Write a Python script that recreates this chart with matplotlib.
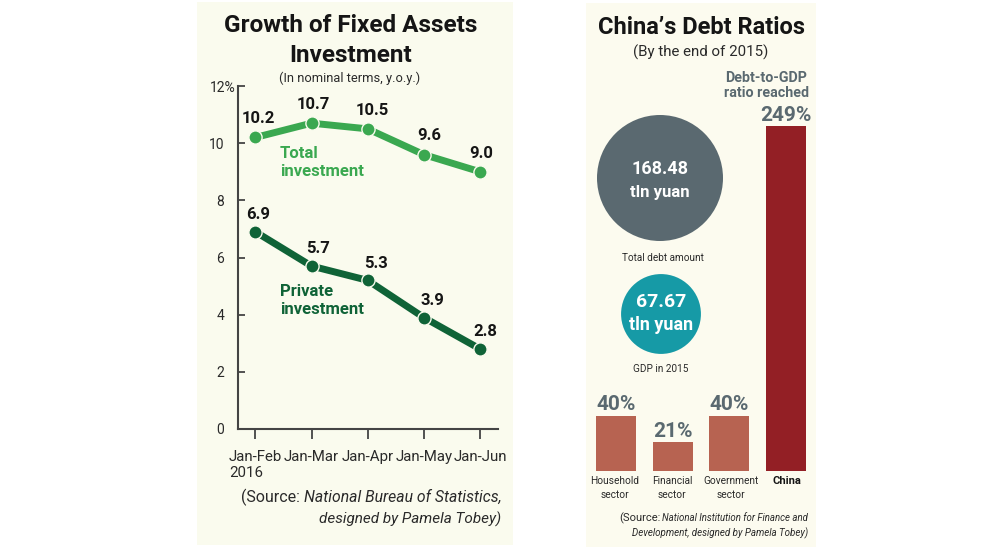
import matplotlib
matplotlib.use("Agg")
import matplotlib.pyplot as plt
from matplotlib.patches import Rectangle
from matplotlib.transforms import ScaledTranslation

W, H = 999, 550

periods = ["Jan-Feb\n2016", "Jan-Mar", "Jan-Apr", "Jan-May", "Jan-Jun"]
total_investment = [10.2, 10.7, 10.5, 9.6, 9.0]
private_investment = [6.9, 5.7, 5.2, 3.9, 2.8]
private_labels = ["6.9", "5.7", "5.3", "3.9", "2.8"]
y_ticks = [0, 2, 4, 6, 8, 10, 12]
y_tick_labels = ["0", "2", "4", "6", "8", "10", "12%"]

debt_amount = 168.48
gdp_amount = 67.67
sector_names = ["Household\nsector", "Financial\nsector", "Government\nsector", "China"]
sector_ratios = [40, 21, 40, 249]

LIGHT_GREEN = "#3aa850"
DARK_GREEN = "#0f6337"
SLATE = "#5a6970"
TEAL = "#169aa6"
BRICK = "#b76351"
DARK_RED = "#931f25"
TEXT = "#2a2a2a"

plt.rcParams["font.family"] = ["Roboto", "DejaVu Sans"]


def px_axes(fig, left, top, right, bottom, zorder=1):
    # axes placed by pixel box, y counted from the top like the picture
    ax = fig.add_axes([left / W, 1 - bottom / H, (right - left) / W, (bottom - top) / H], zorder=zorder)
    ax.patch.set_alpha(0)
    return ax


def put(x, y, s, size, **kw):
    kw.setdefault("ha", "center")
    kw.setdefault("va", "center")
    kw.setdefault("color", TEXT)
    return fg.text(x, y, s, fontsize=size, **kw)


fig = plt.figure(figsize=(W / 100, H / 100), dpi=100, facecolor="white")

# background and text layers in pixel coordinates
bg = px_axes(fig, 0, 0, W, H, zorder=0)
fg = px_axes(fig, 0, 0, W, H, zorder=10)
for layer in (bg, fg):
    layer.set_xlim(0, W)
    layer.set_ylim(H, 0)
    layer.axis("off")
bg.add_patch(Rectangle((197, 2), 316, 543, color="#fafbee", lw=0))
bg.add_patch(Rectangle((586, 3), 230, 544, color="#fcfbef", lw=0))

# left panel
put(351, 26, "Growth of Fixed Assets", 17.5, fontweight="bold", color="#151515")
put(351, 55, "Investment", 17.5, fontweight="bold", color="#151515")
put(350, 78, "(In nominal terms, y.o.y.)", 9.3)

ax = px_axes(fig, 238, 86, 498, 429, zorder=2)
ax.set_xlim(-0.31, 4.32)
ax.set_ylim(0, 12)
x = list(range(len(periods)))
for values, colour in [(total_investment, LIGHT_GREEN), (private_investment, DARK_GREEN)]:
    ax.plot(x, values, color=colour, lw=5, solid_capstyle="butt", zorder=3)
    ax.plot(x, values, "o", color=colour, ms=9.5, mec="#fafbee", mew=1, zorder=4)

total_shift = [2, 1, 3, 4, 1]
private_shift = [2, 5, 6, 6, 4]
for i, v in enumerate(total_investment):
    ax.annotate(f"{v:.1f}", (i, v), xytext=(total_shift[i], 8), textcoords="offset points",
                ha="center", va="bottom", fontsize=12, fontweight="bold", color="#151515")
for i, v in enumerate(private_investment):
    ax.annotate(private_labels[i], (i, v), xytext=(private_shift[i], 7), textcoords="offset points",
                ha="center", va="bottom", fontsize=12, fontweight="bold", color="#151515")

ax.spines["top"].set_visible(False)
ax.spines["right"].set_visible(False)
for side in ("left", "bottom"):
    ax.spines[side].set_color("#444444")
    ax.spines[side].set_linewidth(1.5)
ax.set_yticks(y_ticks, y_tick_labels, fontsize=10, color=TEXT)
ax.tick_params(axis="y", direction="in", length=5, width=1.3, color="#444444", pad=10)
ax.set_xticks(x, periods, fontsize=10.8, color=TEXT, linespacing=1.2)
ax.tick_params(axis="x", direction="out", length=7, width=1.3, color="#444444", pad=8)
ax.get_xticklabels()[0].set_multialignment("left")
# the 12% label hangs over the axis line
top_label = ax.get_yticklabels()[-1]
top_label.set_transform(top_label.get_transform() + ScaledTranslation(8 / 72, 0, fig.dpi_scale_trans))

put(280, 153, "Total", 12, ha="left", fontweight="bold", color=LIGHT_GREEN)
put(280, 172, "investment", 12, ha="left", fontweight="bold", color=LIGHT_GREEN)
put(280, 291, "Private", 12, ha="left", fontweight="bold", color=DARK_GREEN)
put(280, 310, "investment", 12, ha="left", fontweight="bold", color=DARK_GREEN)

put(502, 497, "National Bureau of Statistics,", 11.3, ha="right", style="italic")
put(300, 497, "(Source:", 11.5, ha="right")
put(501, 519, "designed by Pamela Tobey)", 11, ha="right", style="italic")

# right panel
put(701, 28, "China\u2019s Debt Ratios", 17, fontweight="bold", color="#151515")
put(701, 52, "(By the end of 2015)", 10.8)
put(766, 78, "Debt-to-GDP", 10.3, fontweight="bold", color=SLATE)
put(766, 93, "ratio reached", 10.3, fontweight="bold", color=SLATE)

# circle areas follow the amounts, 126 px across for the total debt
circles = px_axes(fig, 586, 100, 766, 360, zorder=2)
circles.set_xlim(586, 766)
circles.set_ylim(360, 100)
circles.axis("off")
scale = (126 * 0.72) ** 2 / debt_amount
circles.scatter([660, 661], [178, 314], s=[debt_amount * scale, gdp_amount * scale],
                c=[SLATE, TEAL], linewidths=0)
put(660, 169, f"{debt_amount:.2f}", 13, fontweight="bold", color="white")
put(660, 192, "tln yuan", 12, fontweight="bold", color="white")
put(661, 302, f"{gdp_amount:.2f}", 14, fontweight="bold", color="white")
put(661, 325, "tln yuan", 13, fontweight="bold", color="white")
put(663, 258, "Total debt amount", 7.2)
put(661, 369, "GDP in 2015", 7.2)

bars = px_axes(fig, 586, 126, 816, 471, zorder=2)
bars.set_xlim(586, 816)
bars.set_ylim(0, 249)
bars.axis("off")
bar_x = [616, 672.5, 729, 786]
bars.bar(bar_x, sector_ratios, width=40, color=[BRICK, BRICK, BRICK, DARK_RED], linewidth=0)
for bx, v in zip(bar_x, sector_ratios):
    bars.annotate(f"{v}%", (bx, v), xytext=(0, 1), textcoords="offset points", ha="center",
                  va="bottom", fontsize=15, fontweight="bold", color=SLATE,
                  annotation_clip=False)

label_x = [615, 672, 731, 787]
for lx, name in zip(label_x, sector_names):
    is_china = name == "China"
    put(lx, 476, name, 8 if is_china else 7.3, va="top", linespacing=1.55,
        fontweight="bold" if is_china else "normal",
        color="#151515" if is_china else TEXT)

put(808, 518, "National Institution for Finance and", 6.9, ha="right", style="italic")
put(661, 518, "(Source:", 8, ha="right")
put(808, 533, "Development, designed by Pamela Tobey)", 7, ha="right", style="italic")

fig.savefig("out.png", dpi=100)
